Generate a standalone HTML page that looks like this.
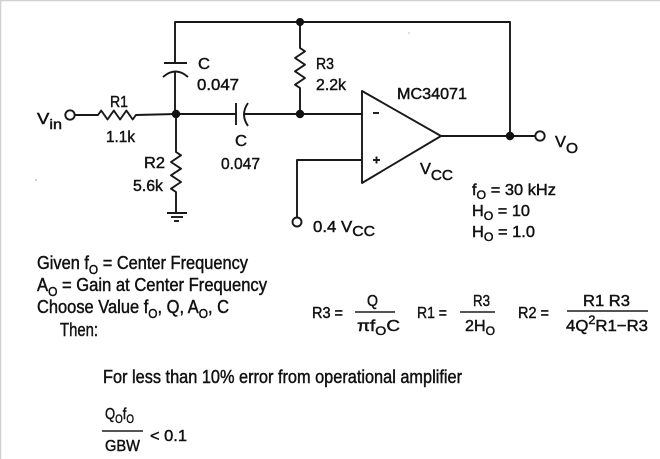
<!DOCTYPE html>
<html><head><meta charset="utf-8"><style>
html,body{margin:0;padding:0;background:#fff;}
svg{display:block;}
text{font-family:"Liberation Sans",Arial,sans-serif;fill:#111;stroke:#111;stroke-width:0.45;}
</style></head><body>
<svg width="660" height="459" viewBox="0 0 660 459" xmlns="http://www.w3.org/2000/svg">
<rect x="0" y="0" width="660" height="459" fill="#fff"/>
<line x1="0" y1="0.5" x2="660" y2="0.5" stroke="#d0d0d0" stroke-width="1.5"/>
<line x1="0.5" y1="0" x2="0.5" y2="459" stroke="#d0d0d0" stroke-width="1.5"/>

<g fill="none" stroke="#181818" stroke-width="1.9" stroke-linejoin="round">
  <polyline points="175,63 175,22 510,22 510,136"/>
  <line x1="164" y1="63" x2="187" y2="63"/>
  <path d="M163,77 Q175.5,66 188,77"/>
  <line x1="175" y1="71.5" x2="175" y2="114"/>
  <path d="M75,115 L98,115 l3.2,-4.5 l6.3,9 l6.3,-9 l6.3,9 l6.3,-9 l6.3,9 l3.2,-4.5 L176,114"/>
  <line x1="176" y1="114" x2="236" y2="114"/>
  <line x1="236" y1="103" x2="236" y2="125"/>
  <path d="M248,103 Q240,114.5 248,126"/>
  <line x1="244" y1="114" x2="300" y2="114"/>
  <path d="M300,22 L300,48 l5,3.33 l-10,6.67 l10,6.67 l-10,6.67 l10,6.67 l-10,6.67 l5,3.33 L300,114"/>
  <line x1="300" y1="114" x2="362" y2="114"/>
  <path d="M176,114 L176,152 l5,3.33 l-10,6.67 l10,6.67 l-10,6.67 l10,6.67 l-10,6.67 l5,3.33 L176,213"/>
  <line x1="167" y1="213" x2="187" y2="213"/>
  <line x1="171" y1="217" x2="183" y2="217"/>
  <line x1="174" y1="221" x2="179" y2="221"/>
  <polygon points="362,91 362,183 441,136"/>
  <line x1="373" y1="113" x2="379" y2="113"/>
  <line x1="373" y1="160" x2="380" y2="160"/>
  <line x1="376.5" y1="156.5" x2="376.5" y2="163.5"/>
  <polyline points="362,160 297,160 297,217.5"/>
  <line x1="441" y1="136" x2="535" y2="136"/>
  <circle cx="70" cy="115" r="4.7" fill="#fff"/>
  <circle cx="540" cy="136" r="4.7" fill="#fff"/>
  <circle cx="297" cy="222" r="4.5" fill="#fff"/>
</g>
<g fill="#111">
  <circle cx="300" cy="22" r="4"/>
  <circle cx="176" cy="114" r="4.2"/>
  <circle cx="300" cy="114" r="4.2"/>
  <circle cx="510" cy="136" r="4.2"/>
  <circle cx="36" cy="180" r="0.8" fill="#999"/>
  <circle cx="409" cy="33" r="0.8" fill="#bbb"/>
</g>

<!-- circuit labels -->
<g font-size="16">
  <text x="37" y="124" textLength="25" lengthAdjust="spacingAndGlyphs">V<tspan dy="5" font-size="14">in</tspan></text>
  <text x="110" y="107" textLength="18" lengthAdjust="spacingAndGlyphs">R1</text>
  <text x="106" y="142" textLength="29" lengthAdjust="spacingAndGlyphs">1.1k</text>
  <text x="198" y="69" textLength="12" lengthAdjust="spacingAndGlyphs">C</text>
  <text x="197" y="90" textLength="42" lengthAdjust="spacingAndGlyphs">0.047</text>
  <text x="316" y="69" textLength="18" lengthAdjust="spacingAndGlyphs">R3</text>
  <text x="316" y="90" textLength="30" lengthAdjust="spacingAndGlyphs">2.2k</text>
  <text x="235" y="146" textLength="12" lengthAdjust="spacingAndGlyphs">C</text>
  <text x="221" y="169" textLength="39" lengthAdjust="spacingAndGlyphs">0.047</text>
  <text x="144" y="168" textLength="21" lengthAdjust="spacingAndGlyphs">R2</text>
  <text x="133" y="191" textLength="30" lengthAdjust="spacingAndGlyphs">5.6k</text>
  <text x="397" y="99" textLength="70" lengthAdjust="spacingAndGlyphs">MC34071</text>
  <text x="420" y="174" textLength="33" lengthAdjust="spacingAndGlyphs">V<tspan dy="6" font-size="15">CC</tspan></text>
  <text x="555" y="147" textLength="23" lengthAdjust="spacingAndGlyphs">V<tspan dy="6" font-size="15">O</tspan></text>
  <text x="313" y="232" textLength="62" lengthAdjust="spacingAndGlyphs">0.4 V<tspan dy="4" font-size="15">CC</tspan></text>
  <text x="472" y="195" textLength="84" lengthAdjust="spacingAndGlyphs">f<tspan dy="4" font-size="12">O</tspan><tspan dy="-4"> = 30 kHz</tspan></text>
  <text x="472" y="216" textLength="58" lengthAdjust="spacingAndGlyphs">H<tspan dy="4" font-size="12">O</tspan><tspan dy="-4"> = 10</tspan></text>
  <text x="472" y="237" textLength="63" lengthAdjust="spacingAndGlyphs">H<tspan dy="4" font-size="12">O</tspan><tspan dy="-4"> = 1.0</tspan></text>
</g>

<!-- description text -->
<g font-size="18">
  <text x="37" y="269" textLength="211" lengthAdjust="spacingAndGlyphs">Given f<tspan dy="5" font-size="13">O</tspan><tspan dy="-5"> = Center Frequency</tspan></text>
  <text x="37" y="291" textLength="230" lengthAdjust="spacingAndGlyphs">A<tspan dy="5" font-size="13">O</tspan><tspan dy="-5"> = Gain at Center Frequency</tspan></text>
  <text x="37" y="313" textLength="192" lengthAdjust="spacingAndGlyphs">Choose Value f<tspan dy="5" font-size="13">O</tspan><tspan dy="-5">, Q, A</tspan><tspan dy="5" font-size="13">O</tspan><tspan dy="-5">, C</tspan></text>
  <text x="60" y="336" textLength="38" lengthAdjust="spacingAndGlyphs">Then:</text>
  <text x="103" y="383" textLength="359" lengthAdjust="spacingAndGlyphs">For less than 10% error from operational amplifier</text>
</g>

<!-- formulas -->
<g font-size="16">
  <text x="312" y="318" textLength="31" lengthAdjust="spacingAndGlyphs">R3 =</text>
  <text x="367" y="306" textLength="11" lengthAdjust="spacingAndGlyphs">Q</text>
  <text x="357" y="331" textLength="43" lengthAdjust="spacingAndGlyphs">πf<tspan dy="4" font-size="12">O</tspan><tspan dy="-4">C</tspan></text>
  <text x="417" y="318" textLength="30" lengthAdjust="spacingAndGlyphs">R1 =</text>
  <text x="473" y="306" textLength="17" lengthAdjust="spacingAndGlyphs">R3</text>
  <text x="465" y="331" textLength="30" lengthAdjust="spacingAndGlyphs">2H<tspan dy="4" font-size="12">O</tspan></text>
  <text x="518" y="318" textLength="31" lengthAdjust="spacingAndGlyphs">R2 =</text>
  <text x="583" y="306" textLength="47" lengthAdjust="spacingAndGlyphs">R1 R3</text>
  <text x="566" y="331" textLength="82" lengthAdjust="spacingAndGlyphs">4Q<tspan dy="-7" font-size="12">2</tspan><tspan dy="7">R1−R3</tspan></text>
</g>
<g stroke="#1c1c1c" stroke-width="1.4">
  <line x1="355" y1="312" x2="395" y2="312"/>
  <line x1="460" y1="312" x2="495" y2="312"/>
  <line x1="567" y1="311" x2="648" y2="311"/>
  <line x1="102" y1="431" x2="143" y2="431"/>
</g>

<!-- bottom inequality -->
<g font-size="16">
  <text x="105" y="419" textLength="29" lengthAdjust="spacingAndGlyphs">Q<tspan dy="4" font-size="12">O</tspan><tspan dy="-4">f</tspan><tspan dy="4" font-size="12">O</tspan></text>
  <text x="105" y="451" textLength="35" lengthAdjust="spacingAndGlyphs">GBW</text>
  <text x="150" y="441" textLength="37" lengthAdjust="spacingAndGlyphs">&lt; 0.1</text>
</g>
</svg>
</body></html>
